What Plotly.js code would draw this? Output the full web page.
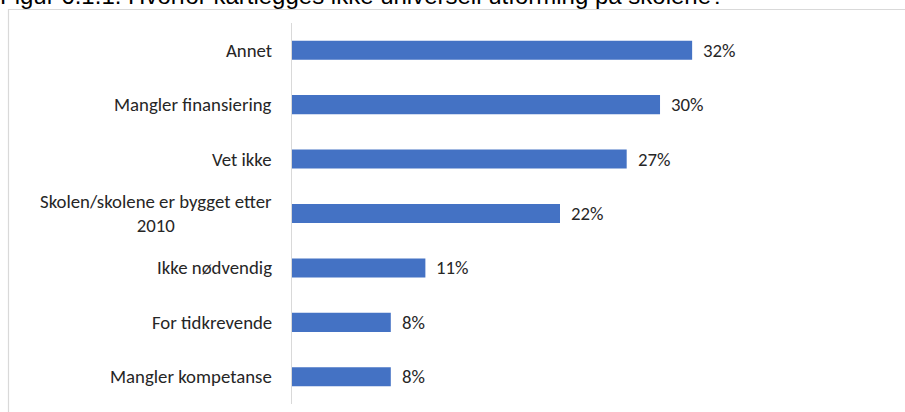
<!DOCTYPE html>
<html>
<head>
<meta charset="utf-8">
<script src="https://cdn.plot.ly/plotly-3.0.1.min.js"></script>
<style>
html,body{margin:0;padding:0;background:#fff;overflow:hidden;}
#chart{width:905px;height:412px;}
</style>
</head>
<body>
<div id="chart"></div>
<script>
var titleText = "Figur 6.1.1: Hvorfor kartlegges ikke universell utforming på skolene?";
var categories = [
  "Annet",
  "Mangler finansiering",
  "Vet ikke",
  "Skolen/skolene er bygget etter<br>2010",
  "Ikke nødvendig",
  "For tidkrevende",
  "Mangler kompetanse"
];
var values = [32.4, 29.8, 27.1, 21.7, 10.8, 8.0, 8.0];
var valueLabels = ["32%", "30%", "27%", "22%", "11%", "8%", "8%"];

var W = 905, H = 412;
var mL = 292, mR = 25, mT = 23, mB = 8;
var plotW = W - mL - mR, plotH = H - mT - mB;
function px2paperX(px){ return (px - mL) / plotW; }
function px2paperY(py){ return (H - mB - py) / plotH; }

var labelFont = {family: "Carlito, Lato, sans-serif", size: 18.8, color: "#262626", weight: 400};

var annotations = [];
categories.forEach(function(c, i){
  annotations.push({
    xref: "paper", yref: "y", x: 0, y: c, text: c,
    xanchor: "right", yanchor: "middle", xshift: -18,
    align: "center", showarrow: false, font: labelFont
  });
  annotations.push({
    xref: "x", yref: "y", x: values[i], y: c, text: valueLabels[i],
    xanchor: "left", yanchor: "middle", xshift: 9,
    showarrow: false, font: labelFont
  });
});

var data = [{
  type: "bar",
  orientation: "h",
  x: values,
  y: categories,
  marker: {color: "#4472C4"},
  hoverinfo: "none"
}];

var layout = {
  width: W, height: H,
  margin: {l: mL, r: mR, t: mT, b: mB, pad: 0},
  paper_bgcolor: "#ffffff",
  plot_bgcolor: "#ffffff",
  showlegend: false,
  bargap: 0.65,
  title: {
    text: titleText,
    font: {family: "Liberation Sans, Arial, sans-serif", size: 24, color: "#000000"},
    xref: "container", yref: "container",
    x: 0, xanchor: "left",
    y: 1 - 4 / H, yanchor: "bottom",
    pad: {t: 0, b: 0, l: 0, r: 0}
  },
  xaxis: {
    range: [0, plotW / 12.35],
    visible: false, showgrid: false, zeroline: false, fixedrange: true
  },
  yaxis: {
    type: "category",
    autorange: "reversed",
    showline: true, linecolor: "#d9d9d9", linewidth: 1,
    showgrid: false, zeroline: false, ticks: "",
    showticklabels: false, fixedrange: true
  },
  annotations: annotations,
  shapes: [{
    type: "rect", xref: "paper", yref: "paper",
    x0: px2paperX(8.5), x1: px2paperX(915),
    y0: px2paperY(420), y1: px2paperY(9.5),
    line: {color: "#d9d9d9", width: 1.2},
    fillcolor: "rgba(0,0,0,0)", layer: "below"
  }]
};

Plotly.newPlot("chart", data, layout, {displayModeBar: false, staticPlot: true});
</script>
</body>
</html>
